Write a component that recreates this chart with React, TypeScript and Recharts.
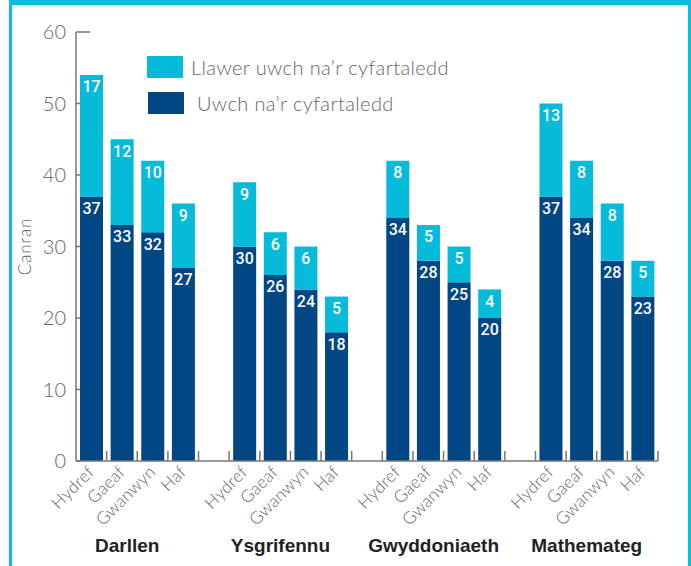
import React from "react";
import { BarChart, Bar, XAxis, YAxis, Legend, LabelList } from "recharts";

const groups = ["Darllen", "Ysgrifennu", "Gwyddoniaeth", "Mathemateg"];
const seasons = ["Hydref", "Gaeaf", "Gwanwyn", "Haf"];
// Uwch na'r cyfartaledd (dark), one value per season, group by group
const uwch = [37, 33, 32, 27, 30, 26, 24, 18, 34, 28, 25, 20, 37, 34, 28, 23];
// Llawer uwch na'r cyfartaledd (light), stacked on top
const llawer = [17, 12, 10, 9, 9, 6, 6, 5, 8, 5, 5, 4, 13, 8, 8, 5];
const yTicks = [0, 10, 20, 30, 40, 50, 60];

const DARK = "#004784";
const LIGHT = "#06BBDA";
const FRAME = "#0BBDDD";
const GREY = "#666";
const THIN = "Lato, 'DejaVu Sans', sans-serif";

type Row = { id: string; season: string; group: string; uwch: number | null; llawer: number | null };

// 4 bars per group, one empty slot between groups
const rows: Row[] = [];
groups.forEach((g, gi) => {
  seasons.forEach((s, si) => {
    const k = gi * 4 + si;
    rows.push({ id: `${g}-${s}`, season: s, group: si === 1 ? g : "", uwch: uwch[k], llawer: llawer[k] });
  });
  if (gi < groups.length - 1) rows.push({ id: `gap-${gi}`, season: "", group: "", uwch: null, llawer: null });
});
const byId = new Map(rows.map((r) => [r.id, r]));

const XTick = (props: any) => {
  const { x, y, payload } = props;
  const row = byId.get(payload.value);
  const half = payload.offset || 15.3;
  return (
    <g>
      <line x1={x + half} x2={x + half} y1={y} y2={y - 10} stroke="#777" strokeWidth={1.5} />
      {row && row.season && (
        <text
          x={x + 4}
          y={y + 12}
          textAnchor="end"
          transform={`rotate(-45 ${x + 4} ${y + 12})`}
          fontFamily={THIN}
          fontWeight={300}
          fontSize={17}
          letterSpacing={0.3}
          fill={GREY}
        >
          {row.season}
        </text>
      )}
      {row && row.group && (
        <text
          x={x + half - 10}
          y={y + 91}
          textAnchor="middle"
          fontFamily="'Liberation Sans', Arial, sans-serif"
          fontWeight="bold"
          fontSize={19}
          fill="#222"
        >
          {row.group}
        </text>
      )}
    </g>
  );
};

const YTick = (props: any) => {
  const { x, y, payload } = props;
  return (
    <g>
      <line x1={x} x2={x + (payload.value === 60 ? 14 : 4)} y1={y} y2={y} stroke="#777" strokeWidth={1.5} />
      <text x={x - 10} y={y} dy="0.36em" textAnchor="end" fontFamily={THIN} fontWeight={300} fontSize={20} fill={GREY}>
        {payload.value}
      </text>
    </g>
  );
};

const LegendBox = () => (
  <div style={{ fontFamily: THIN, fontWeight: 300, fontSize: 20, letterSpacing: 0.4, color: GREY, textAlign: "left", whiteSpace: "nowrap" }}>
    <div style={{ display: "flex", alignItems: "center", height: 22 }}>
      <span style={{ width: 36, height: 22, background: LIGHT, marginRight: 8 }} />
      <span>Llawer uwch na’r cyfartaledd</span>
    </div>
    <div style={{ display: "flex", alignItems: "center", height: 22, marginTop: 14, marginLeft: 1 }}>
      <span style={{ width: 36, height: 22, background: DARK, marginRight: 13 }} />
      <span>Uwch na’r cyfartaledd</span>
    </div>
  </div>
);

const labelStyle = { fill: "#fff", fontSize: 16, fontFamily: "Roboto, sans-serif", fontWeight: 500 };

export default function App() {
  return (
    <div style={{ position: "absolute", left: 0, top: 0, width: 691, height: 566, overflow: "hidden", background: "#fff" }}>
      <div
        style={{
          position: "absolute",
          left: 9,
          top: 0,
          width: 682,
          height: 600,
          boxSizing: "border-box",
          borderTop: `5px solid ${FRAME}`,
          borderLeft: `3px solid ${FRAME}`,
          borderRight: `3px solid ${FRAME}`,
        }}
      />
      <div style={{ position: "absolute", left: 0, top: 0 }}>
        <BarChart width={691} height={566} data={rows} margin={{ top: 32, right: 33, bottom: 0, left: 0 }} barSize={23}>
          <XAxis
            dataKey="id"
            interval={0}
            height={105}
            tick={<XTick />}
            tickLine={false}
            tickSize={0}
            tickMargin={0}
            axisLine={{ stroke: "#777", strokeWidth: 1.5 }}
          />
          <YAxis
            width={76}
            domain={[0, 60]}
            ticks={yTicks}
            tick={<YTick />}
            tickLine={false}
            tickSize={0}
            tickMargin={0}
            axisLine={{ stroke: "#777", strokeWidth: 1.5 }}
            label={{
              value: "Canran",
              angle: -90,
              position: "insideLeft",
              offset: 25,
              style: { textAnchor: "middle", fontFamily: THIN, fontWeight: 300, fontSize: 17, letterSpacing: 0.8, fill: GREY },
            }}
          />
          <Legend
            content={<LegendBox />}
            layout="vertical"
            verticalAlign="middle"
            align="center"
            wrapperStyle={{ position: "absolute", left: 147, top: 56, width: 340 }}
          />
          <Bar dataKey="uwch" stackId="a" fill={DARK} isAnimationActive={false}>
            <LabelList dataKey="uwch" position="insideTop" offset={6} style={labelStyle} formatter={(v: any) => (v == null ? "" : v)} />
          </Bar>
          <Bar dataKey="llawer" stackId="a" fill={LIGHT} isAnimationActive={false}>
            <LabelList dataKey="llawer" position="insideTop" offset={6} style={labelStyle} formatter={(v: any) => (v == null ? "" : v)} />
          </Bar>
        </BarChart>
      </div>
    </div>
  );
}
